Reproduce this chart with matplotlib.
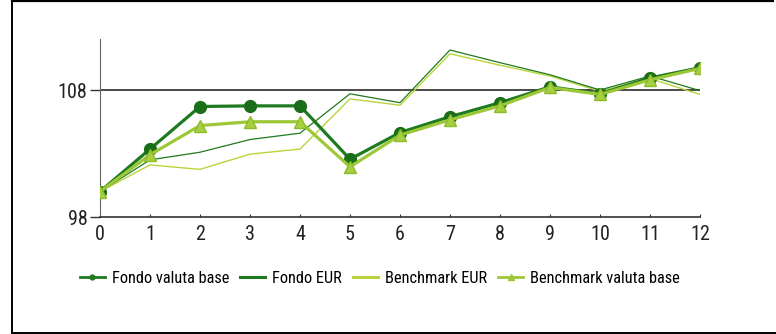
import matplotlib
matplotlib.use("Agg")
import matplotlib.pyplot as plt
from matplotlib.lines import Line2D
from matplotlib import font_manager as fm

avail = {f.name for f in fm.fontManager.ttflist}
narrow = None
for cand in ['Liberation Sans Narrow', 'DejaVu Sans Condensed', 'Roboto Condensed',
             'Open Sans Condensed', 'Noto Sans Condensed']:
    if cand in avail:
        narrow = cand
        break
fam = [narrow, 'Liberation Sans', 'DejaVu Sans'] if narrow else ['Liberation Sans', 'DejaVu Sans']
plt.rcParams['font.family'] = fam
scale = 1.0 if narrow else 0.82

months = list(range(13))
fondo_base = [100, 103.35, 106.7, 106.75, 106.75, 102.55, 104.65, 105.9, 107.0, 108.25, 107.7, 108.95, 109.75]
bench_base = [100, 102.9, 105.2, 105.5, 105.5, 101.95, 104.45, 105.65, 106.75, 108.2, 107.65, 108.8, 109.7]
fondo_eur = [100, 102.5, 103.1, 104.1, 104.6, 107.7, 107.0, 111.15, 110.15, 109.2, 108.0, 109.1, 107.95]
bench_eur = [100, 102.1, 101.75, 102.95, 103.35, 107.3, 106.8, 110.85, 109.95, 109.1, 107.9, 108.9, 107.65]
labels = ["Fondo valuta base", "Fondo EUR", "Benchmark EUR", "Benchmark valuta base"]
yticks = [98, 108]

c_dark = '#1e7a1e'
c_light = '#9cc838'
c_light_thin = '#b8d43c'

W, H = 776, 334
fig = plt.figure(figsize=(W / 100, H / 100), dpi=100)
ax = fig.add_axes([100 / W, (H - 217) / H, 600 / W, (217 - 39.2) / H])

ax.plot(months, bench_eur, color=c_light_thin, lw=1.0, zorder=2)
ax.plot(months, fondo_eur, color=c_dark, lw=0.9, zorder=2)
ax.plot(months, fondo_base, color=c_dark, lw=2.3, marker='o', ms=8.5,
        mfc='#1a6e1a', mec='#1a6e1a', zorder=3)
ax.plot(months, bench_base, color=c_light, lw=2.3, marker='^', ms=8.5,
        mfc='#a6d040', mec='#8dbb2a', zorder=4)

ax.axhline(108, color='#3a3a3a', lw=1.3, zorder=1)

ax.set_xlim(0, 12)
ax.set_ylim(98, 112)
ax.set_xticks(months)
ax.set_xticklabels([str(m) for m in months])
ax.set_yticks(yticks)
ax.set_yticklabels([str(v) for v in yticks])

for s in ['top', 'right']:
    ax.spines[s].set_visible(False)
ax.spines['left'].set_color('#666666')
ax.spines['left'].set_linewidth(0.8)
ax.spines['bottom'].set_color('#333333')
ax.spines['bottom'].set_linewidth(1.2)
ax.tick_params(axis='x', direction='in', length=2.5, width=0.8, color='#333333',
               pad=6, labelsize=14.5 * (1.0 if narrow else 0.85), labelcolor='#222222')
ax.tick_params(axis='y', direction='out', length=7, width=1.0, color='#333333',
               pad=2, labelsize=14.5 * (1.0 if narrow else 0.85), labelcolor='#222222')

handles = [
    Line2D([], [], color=c_dark, lw=2, marker='o', ms=3.5, mfc=c_dark, mec=c_dark),
    Line2D([], [], color=c_dark, lw=2.2),
    Line2D([], [], color=c_light_thin, lw=2.2),
    Line2D([], [], color=c_light, lw=2, marker='^', ms=4, mfc=c_light, mec=c_light),
]
fs = 11.8 * scale
fig.legend(handles, labels, loc='center left', bbox_to_anchor=(80 / W, 1 - 278.5 / H),
           ncol=4, frameon=False, fontsize=fs, handlelength=25 / (fs * 1.389),
           handletextpad=7 / (fs * 1.389), columnspacing=11 / (fs * 1.389),
           borderpad=0, borderaxespad=0)

# outer frame
fig.add_artist(Line2D([11.5 / W, 773 / W], [1 - 1 / H, 1 - 1 / H], color='black', lw=1.6,
                      transform=fig.transFigure))
fig.add_artist(Line2D([11.5 / W, 11.5 / W], [1 - 0 / H, 1 - 332.5 / H], color='black', lw=1.4,
                      transform=fig.transFigure))
fig.add_artist(Line2D([11.5 / W, 1.0], [1 - 332.5 / H, 1 - 332.5 / H], color='black', lw=1.4,
                      transform=fig.transFigure))

fig.savefig('out.png', dpi=100)
